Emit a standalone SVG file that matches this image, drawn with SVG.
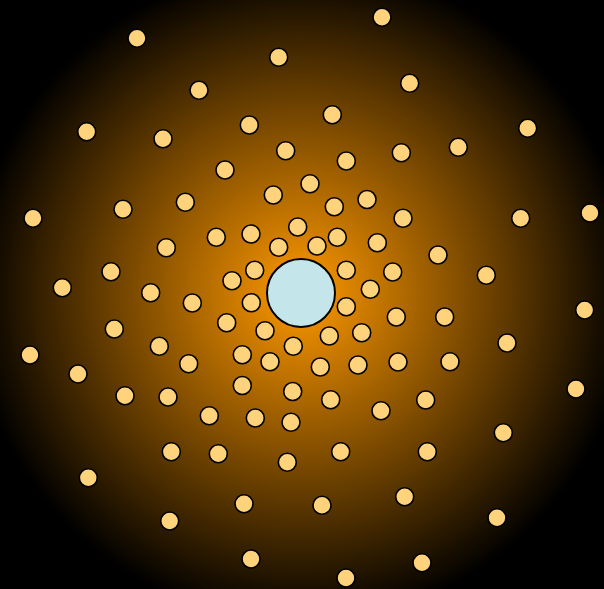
<svg xmlns="http://www.w3.org/2000/svg" width="604" height="589" viewBox="0 0 604 589">
<defs>
<radialGradient id="bg" gradientUnits="userSpaceOnUse" cx="301" cy="293" r="330">
<stop offset="0" stop-color="#ff9900"/>
<stop offset="1" stop-color="#000000"/>
</radialGradient>
<style>
.s{fill:#ffd27c;stroke:#000;stroke-width:1.6}
.c{fill:#c4e5e9;stroke:#000;stroke-width:2}
</style>
</defs>
<rect width="604" height="589" fill="url(#bg)"/>
<g id="particles">
<circle class="s" cx="137" cy="38.3" r="9"/>
<circle class="s" cx="278.7" cy="57.3" r="9"/>
<circle class="s" cx="382" cy="17.3" r="9"/>
<circle class="s" cx="409.7" cy="83.3" r="9"/>
<circle class="s" cx="199" cy="90.3" r="9"/>
<circle class="s" cx="86.7" cy="131.7" r="9"/>
<circle class="s" cx="163" cy="138.7" r="9"/>
<circle class="s" cx="249.3" cy="125" r="9"/>
<circle class="s" cx="332.3" cy="114.7" r="9"/>
<circle class="s" cx="527.7" cy="128.3" r="9"/>
<circle class="s" cx="458.3" cy="147.3" r="9"/>
<circle class="s" cx="401.3" cy="152.7" r="9"/>
<circle class="s" cx="346.3" cy="161" r="9"/>
<circle class="s" cx="285.7" cy="150.7" r="9"/>
<circle class="s" cx="225" cy="170" r="9"/>
<circle class="s" cx="310" cy="183.7" r="9"/>
<circle class="s" cx="273.3" cy="195" r="9"/>
<circle class="s" cx="185.3" cy="202.3" r="9"/>
<circle class="s" cx="123" cy="209.3" r="9"/>
<circle class="s" cx="33" cy="218.3" r="9"/>
<circle class="s" cx="367" cy="199.5" r="9"/>
<circle class="s" cx="334.3" cy="206.7" r="9"/>
<circle class="s" cx="403" cy="218.3" r="9"/>
<circle class="s" cx="520.7" cy="218.3" r="9"/>
<circle class="s" cx="590" cy="213" r="9"/>
<circle class="s" cx="297.7" cy="227" r="9"/>
<circle class="s" cx="251" cy="234" r="9"/>
<circle class="s" cx="216.3" cy="237.3" r="9"/>
<circle class="s" cx="337.3" cy="237.3" r="9"/>
<circle class="s" cx="377.3" cy="242.7" r="9"/>
<circle class="s" cx="317" cy="246" r="9"/>
<circle class="s" cx="278.7" cy="247.3" r="9"/>
<circle class="s" cx="166.3" cy="247.7" r="9"/>
<circle class="s" cx="438" cy="255" r="9"/>
<circle class="s" cx="111" cy="271.7" r="9"/>
<circle class="s" cx="254.7" cy="270.3" r="9"/>
<circle class="s" cx="346.3" cy="270.3" r="9"/>
<circle class="s" cx="392.7" cy="272" r="9"/>
<circle class="s" cx="486.3" cy="275.3" r="9"/>
<circle class="s" cx="62.3" cy="287.7" r="9"/>
<circle class="s" cx="232" cy="280.7" r="9"/>
<circle class="s" cx="150.7" cy="292.7" r="9"/>
<circle class="s" cx="370.3" cy="289.3" r="9"/>
<circle class="s" cx="192.3" cy="303" r="9"/>
<circle class="s" cx="251.3" cy="302.7" r="9"/>
<circle class="s" cx="346.3" cy="306.7" r="9"/>
<circle class="s" cx="584.7" cy="310" r="9"/>
<circle class="s" cx="226.7" cy="322.7" r="9"/>
<circle class="s" cx="396.3" cy="317" r="9"/>
<circle class="s" cx="444.7" cy="317" r="9"/>
<circle class="s" cx="114.3" cy="329" r="9"/>
<circle class="s" cx="265" cy="330.7" r="9"/>
<circle class="s" cx="329.3" cy="336" r="9"/>
<circle class="s" cx="361.7" cy="332.7" r="9"/>
<circle class="s" cx="159.3" cy="346.3" r="9"/>
<circle class="s" cx="293.3" cy="346.3" r="9"/>
<circle class="s" cx="507" cy="343" r="9"/>
<circle class="s" cx="30" cy="355" r="9"/>
<circle class="s" cx="242.3" cy="354.7" r="9"/>
<circle class="s" cx="270" cy="361.7" r="9"/>
<circle class="s" cx="320.3" cy="367" r="9"/>
<circle class="s" cx="358" cy="365" r="9"/>
<circle class="s" cx="398" cy="362" r="9"/>
<circle class="s" cx="450" cy="361.7" r="9"/>
<circle class="s" cx="188.7" cy="363.7" r="9"/>
<circle class="s" cx="78" cy="374" r="9"/>
<circle class="s" cx="242.3" cy="385.5" r="9"/>
<circle class="s" cx="292.7" cy="391.5" r="9"/>
<circle class="s" cx="576" cy="389" r="9"/>
<circle class="s" cx="125" cy="395.7" r="9"/>
<circle class="s" cx="168" cy="397" r="9"/>
<circle class="s" cx="330.7" cy="399.7" r="9"/>
<circle class="s" cx="425.7" cy="400" r="9"/>
<circle class="s" cx="381" cy="410.7" r="9"/>
<circle class="s" cx="209.3" cy="415.7" r="9"/>
<circle class="s" cx="255.3" cy="418" r="9"/>
<circle class="s" cx="291" cy="422.3" r="9"/>
<circle class="s" cx="503.3" cy="432.7" r="9"/>
<circle class="s" cx="171.3" cy="451.7" r="9"/>
<circle class="s" cx="218.3" cy="453.7" r="9"/>
<circle class="s" cx="340.7" cy="451.7" r="9"/>
<circle class="s" cx="427.3" cy="451.7" r="9"/>
<circle class="s" cx="287.3" cy="462.3" r="9"/>
<circle class="s" cx="88.3" cy="477.7" r="9"/>
<circle class="s" cx="244" cy="503.7" r="9"/>
<circle class="s" cx="322" cy="505.3" r="9"/>
<circle class="s" cx="404.7" cy="496.7" r="9"/>
<circle class="s" cx="497" cy="517.7" r="9"/>
<circle class="s" cx="169.7" cy="521" r="9"/>
<circle class="s" cx="251" cy="559" r="9"/>
<circle class="s" cx="422" cy="562.7" r="9"/>
<circle class="s" cx="346" cy="578" r="9"/>
</g>
<g id="nucleus">
<circle class="c" cx="301" cy="293" r="34"/>
</g>
</svg>
